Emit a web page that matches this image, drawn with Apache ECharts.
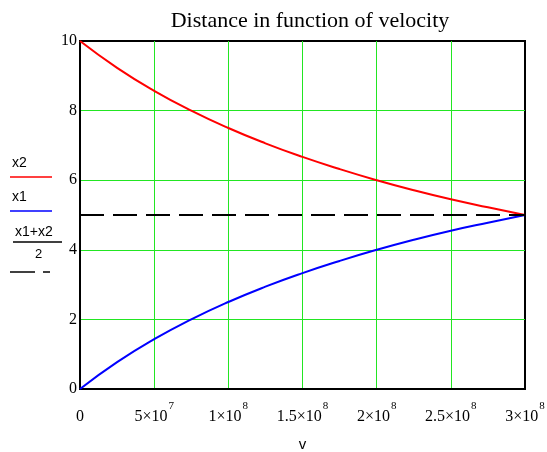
<!DOCTYPE html>
<html>
<head>
<meta charset="utf-8">
<style>
  html, body { margin: 0; padding: 0; background: #fff; }
  #chart { width: 547px; height: 452px; }
</style>
<script src="https://cdn.jsdelivr.net/npm/echarts@6/dist/echarts.min.js"></script>
</head>
<body>
<div id="chart"></div>
<script>
// Velocity samples (m/s) and the two distances evaluated at each of them
const velocities = [0, 2.5e7, 5e7, 7.5e7, 1e8, 1.25e8, 1.5e8, 1.75e8, 2e8, 2.25e8, 2.5e8, 2.75e8, 3e8];
const x2Values = [10, 9.23, 8.57, 8.0, 7.5, 7.06, 6.67, 6.32, 6.0, 5.71, 5.45, 5.22, 5.0];
const x1Values = [0, 0.77, 1.43, 2.0, 2.5, 2.94, 3.33, 3.68, 4.0, 4.29, 4.55, 4.78, 5.0];
// Mean of x1 and x2, drawn across the full range
const meanVelocities = [0, 3e8];
const meanValues = [5, 5];

// Tick labels on the velocity axis: [mantissa part, exponent]
const xTickLabels = [['0', ''], ['5×10', '7'], ['1×10', '8'], ['1.5×10', '8'], ['2×10', '8'], ['2.5×10', '8'], ['3×10', '8']];
const yTickLabels = ['0', '2', '4', '6', '8', '10'];

const pairs = (xs, ys) => xs.map((x, i) => [x, ys[i]]);

const chart = echarts.init(document.getElementById('chart'), null, { renderer: 'canvas' });

const serif = '"Liberation Serif", "Times New Roman", serif';
const sans = '"Liberation Sans", Arial, sans-serif';
const gridGreen = '#22e622';

chart.setOption({
  animation: false,
  backgroundColor: '#ffffff',
  title: {
    text: 'Distance in function of velocity',
    left: 305,
    textAlign: 'center',
    top: 5,
    textStyle: { fontFamily: serif, fontSize: 22, fontWeight: 'normal', color: '#000' }
  },
  grid: {
    left: 80, right: 22, top: 41, bottom: 63,
    outerBoundsMode: 'none',
    containLabel: false,
    show: true, borderColor: '#000', borderWidth: 2, backgroundColor: 'transparent'
  },
  xAxis: {
    type: 'value',
    min: 0, max: 3e8, interval: 5e7,
    name: 'v',
    nameLocation: 'middle',
    nameGap: 48,
    nameTextStyle: { fontFamily: sans, fontSize: 15, color: '#000' },
    axisLine: { show: true, lineStyle: { color: '#000', width: 2 } },
    axisTick: { show: false },
    splitLine: { show: true, showMinLine: false, showMaxLine: false, lineStyle: { color: gridGreen, width: 1 } },
    axisLabel: {
      margin: 12,
      formatter: function (value) {
        const idx = Math.round(value / 5e7);
        const t = xTickLabels[idx];
        if (!t) return '';
        return t[1] ? '{m|' + t[0] + '}{s|' + t[1] + '}' : '{m|' + t[0] + '}';
      },
      rich: {
        m: { fontFamily: serif, fontSize: 16, lineHeight: 24, color: '#000', verticalAlign: 'bottom' },
        s: { fontFamily: serif, fontSize: 11, lineHeight: 12, color: '#000', verticalAlign: 'top', padding: [0, 0, 0, 1] }
      }
    }
  },
  yAxis: {
    type: 'value',
    min: 0, max: 10, interval: 2,
    axisLine: { show: true, lineStyle: { color: '#000', width: 2 } },
    axisTick: { show: false },
    splitLine: { show: true, showMinLine: false, showMaxLine: false, lineStyle: { color: gridGreen, width: 1 } },
    axisLabel: {
      margin: 3,
      fontFamily: serif, fontSize: 16, color: '#000',
      formatter: function (value) {
        return yTickLabels[Math.round(value / 2)];
      }
    }
  },
  graphic: [
    // Mathcad-style trace legend on the left
    { type: 'text', left: 12, top: 156, style: { text: 'x2', font: '14px ' + sans, fill: '#000' } },
    { type: 'line', shape: { x1: 10, y1: 177, x2: 52, y2: 177 }, style: { stroke: '#ff0000', lineWidth: 1.5 } },
    { type: 'text', left: 12, top: 190, style: { text: 'x1', font: '14px ' + sans, fill: '#000' } },
    { type: 'line', shape: { x1: 10, y1: 211, x2: 52, y2: 211 }, style: { stroke: '#0000ff', lineWidth: 1.5 } },
    { type: 'text', left: 15, top: 225, style: { text: 'x1+x2', font: '14px ' + sans, fill: '#000' } },
    { type: 'line', shape: { x1: 13, y1: 242, x2: 62, y2: 242 }, style: { stroke: '#000', lineWidth: 1.5 } },
    { type: 'text', left: 35, top: 248, style: { text: '2', font: '13px ' + sans, fill: '#000' } },
    { type: 'line', shape: { x1: 10, y1: 272, x2: 35, y2: 272 }, style: { stroke: '#000', lineWidth: 1.5 } },
    { type: 'line', shape: { x1: 43, y1: 272, x2: 50, y2: 272 }, style: { stroke: '#000', lineWidth: 1.5 } }
  ],
  series: [
    {
      name: 'x2', type: 'line', smooth: true, symbol: 'none',
      data: pairs(velocities, x2Values),
      lineStyle: { color: '#ff0000', width: 2 }
    },
    {
      name: 'x1', type: 'line', smooth: true, symbol: 'none',
      data: pairs(velocities, x1Values),
      lineStyle: { color: '#0000ff', width: 2 }
    },
    {
      name: 'mean', type: 'line', symbol: 'none',
      data: pairs(meanVelocities, meanValues),
      lineStyle: { color: '#000', width: 2, type: [24, 9] }
    }
  ]
});
</script>
</body>
</html>
